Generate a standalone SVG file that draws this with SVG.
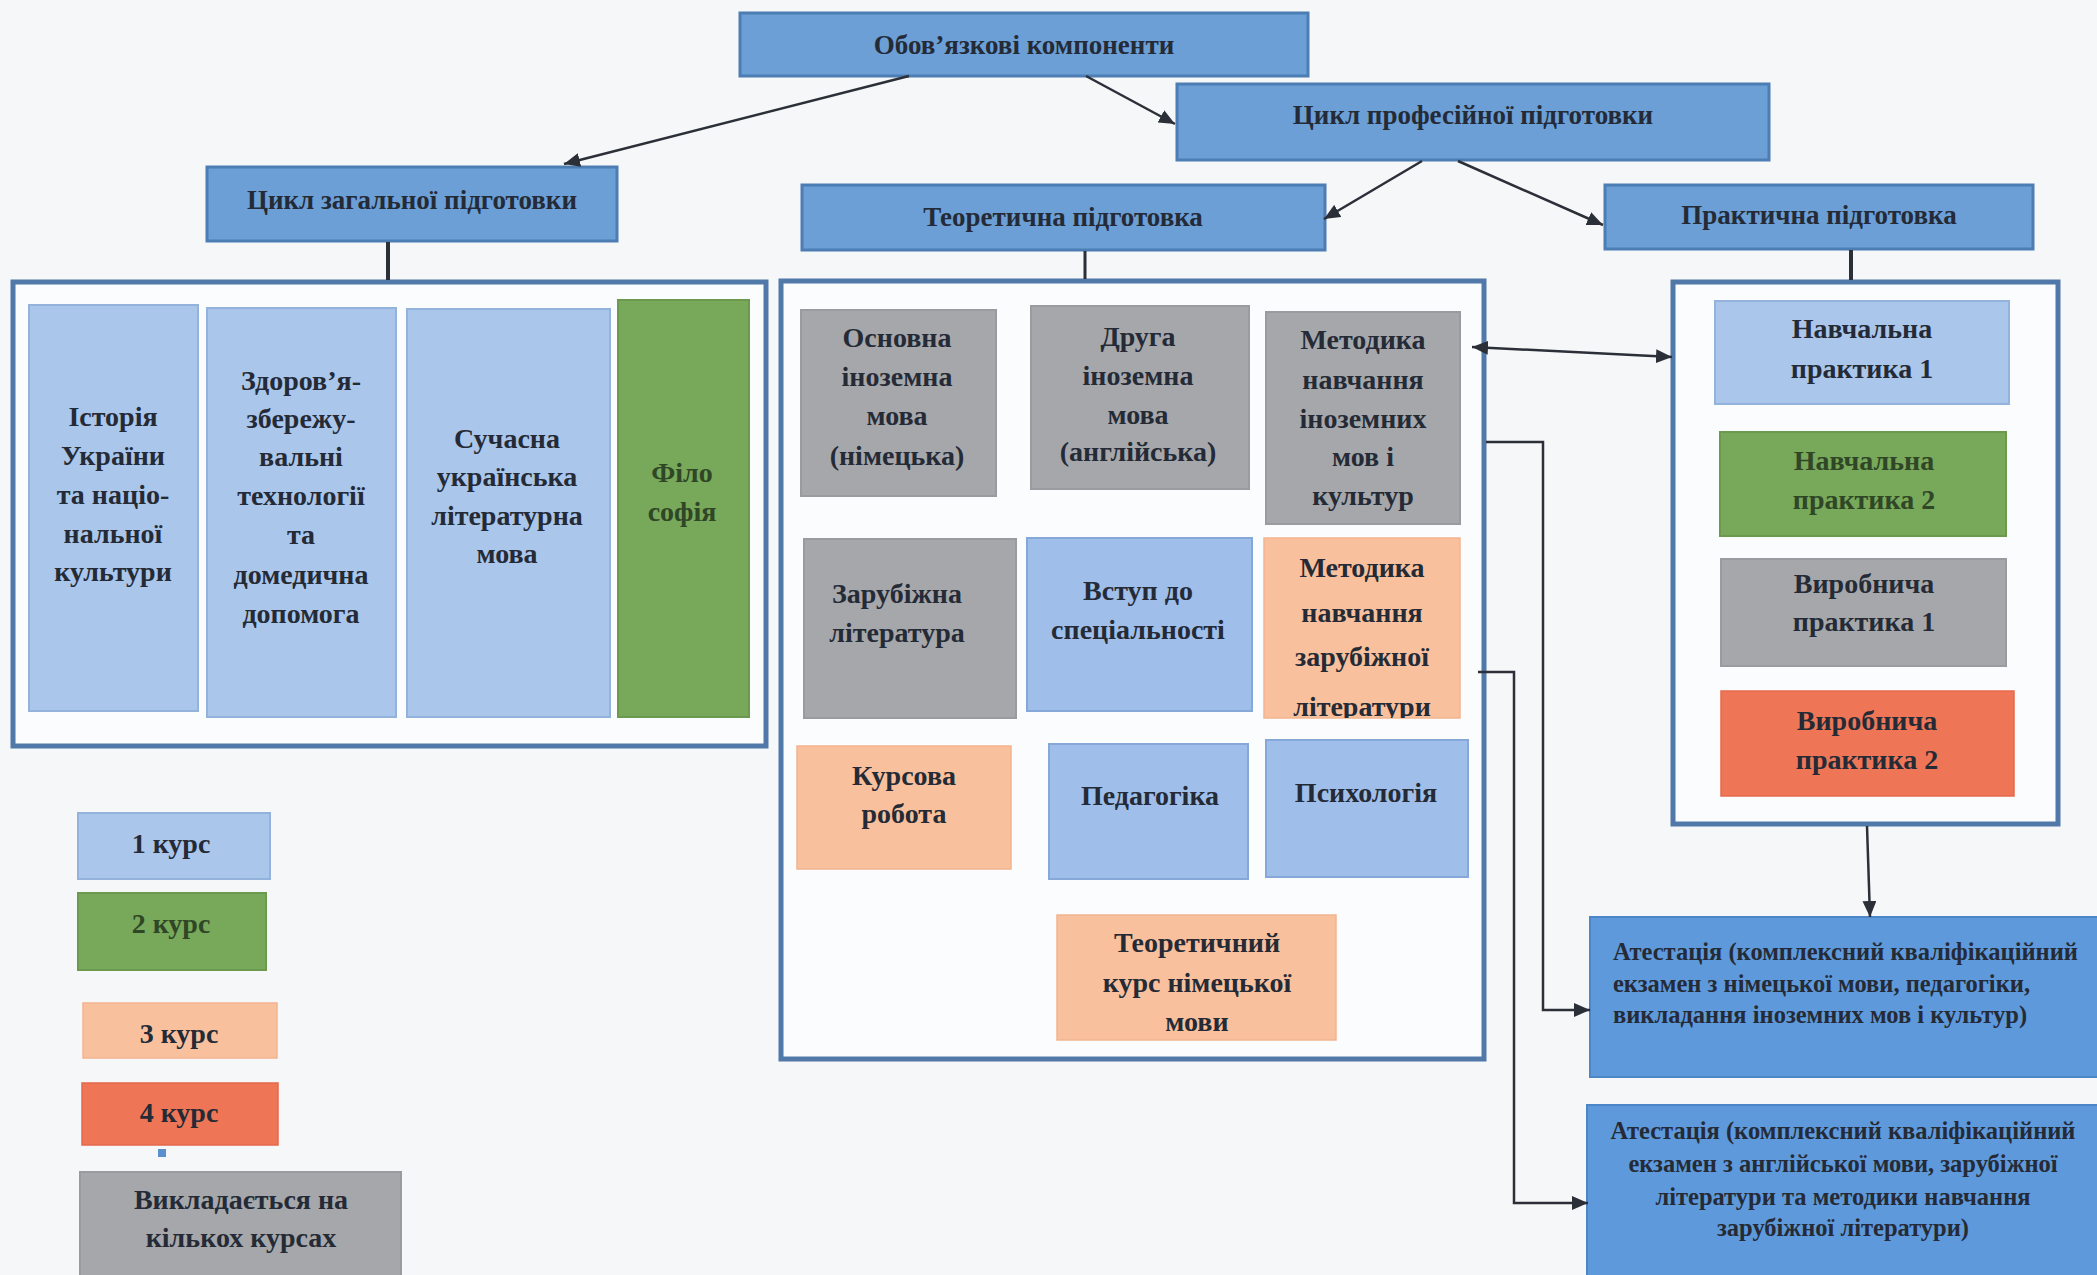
<svg xmlns="http://www.w3.org/2000/svg" width="2097" height="1275" viewBox="0 0 2097 1275">
<style>
.t{font-family:"Liberation Serif","Times New Roman",serif;font-weight:bold;font-size:28px;text-anchor:middle;fill:#252b36}
.h{font-size:27px}
.a{font-size:24.5px}
.hd{fill:#6b9fd6;stroke:#4c7db3;stroke-width:3}
.cont{fill:#fbfcfd;stroke:#5078a8;stroke-width:5}
.lb{fill:#aac6eb;stroke:#93b2dc;stroke-width:2}
.bl{fill:#9fbee9;stroke:#86a8d8;stroke-width:2}
.gr{fill:#a6a7ab;stroke:#9a9ba0;stroke-width:2}
.gn{fill:#78a859;stroke:#6b9a4e;stroke-width:2}
.pc{fill:#f8c09c;stroke:#f2b48e;stroke-width:1.5}
.rd{fill:#ee7657;stroke:#e56a4c;stroke-width:1.5}
.at{fill:#5e99db;stroke:#4d86c6;stroke-width:2}
.gt{fill:#2f4627}
.c{fill:none;stroke:#2b2f38;stroke-width:2.5}
</style>
<defs>
<marker id="ar" markerUnits="userSpaceOnUse" markerWidth="18" markerHeight="14" refX="16" refY="7" orient="auto-start-reverse">
<path d="M0,0 L16,7 L0,14 Z" fill="#2b2f38"/>
</marker>
<clipPath id="clipMZ"><rect x="1264" y="538" width="196" height="180"/></clipPath>
</defs>
<rect x="0" y="0" width="2097" height="1275" fill="#f6f7f9"/>

<g id="obov">
<rect class="hd" x="740" y="13" width="568" height="63"/>
<text class="t h" x="1024" y="54">Обов’язкові компоненти</text>
</g>
<g id="cykl-prof">
<rect class="hd" x="1177" y="84" width="592" height="76"/>
<text class="t h" x="1473" y="124">Цикл професійної підготовки</text>
</g>
<g id="cykl-zag">
<rect class="hd" x="207" y="167" width="410" height="74"/>
<text class="t h" x="412" y="209">Цикл загальної підготовки</text>
</g>
<g id="teor">
<rect class="hd" x="802" y="185" width="523" height="65"/>
<text class="t h" x="1063" y="226">Теоретична підготовка</text>
</g>
<g id="prakt">
<rect class="hd" x="1605" y="185" width="428" height="64"/>
<text class="t h" x="1819" y="224">Практична підготовка</text>
</g>

<g id="cont-zag"><rect class="cont" x="13" y="282" width="753" height="464"/></g>
<g id="istoriya">
<rect class="lb" x="29" y="305" width="169" height="406"/>
<text class="t" x="113"><tspan x="113" y="426">Історія</tspan><tspan x="113" y="465">України</tspan><tspan x="113" y="504">та націо-</tspan><tspan x="113" y="543">нальної</tspan><tspan x="113" y="581">культури</tspan></text>
</g>
<g id="zdorov">
<rect class="lb" x="207" y="308" width="189" height="409"/>
<text class="t" x="301"><tspan x="301" y="390">Здоров’я-</tspan><tspan x="301" y="428">збережу-</tspan><tspan x="301" y="466">вальні</tspan><tspan x="301" y="505">технології</tspan><tspan x="301" y="544">та</tspan><tspan x="301" y="584">домедична</tspan><tspan x="301" y="623">допомога</tspan></text>
</g>
<g id="suchasna">
<rect class="lb" x="407" y="309" width="203" height="408"/>
<text class="t" x="507"><tspan x="507" y="448">Сучасна</tspan><tspan x="507" y="486">українська</tspan><tspan x="507" y="525">літературна</tspan><tspan x="507" y="563">мова</tspan></text>
</g>
<g id="filosofiya">
<rect class="gn" x="618" y="300" width="131" height="417"/>
<text class="t gt" x="682"><tspan x="682" y="482">Філо</tspan><tspan x="682" y="521">софія</tspan></text>
</g>

<g id="cont-teor"><rect class="cont" x="781" y="281" width="703" height="778"/></g>
<g id="osnovna">
<rect class="gr" x="801" y="310" width="195" height="186"/>
<text class="t" x="897"><tspan x="897" y="347">Основна</tspan><tspan x="897" y="386">іноземна</tspan><tspan x="897" y="425">мова</tspan><tspan x="897" y="465">(німецька)</tspan></text>
</g>
<g id="druha">
<rect class="gr" x="1031" y="306" width="218" height="183"/>
<text class="t" x="1138"><tspan x="1138" y="346">Друга</tspan><tspan x="1138" y="385">іноземна</tspan><tspan x="1138" y="424">мова</tspan><tspan x="1138" y="461">(англійська)</tspan></text>
</g>
<g id="metod-inoz">
<rect class="gr" x="1266" y="312" width="194" height="212"/>
<text class="t" x="1363"><tspan x="1363" y="349">Методика</tspan><tspan x="1363" y="389">навчання</tspan><tspan x="1363" y="428">іноземних</tspan><tspan x="1363" y="466">мов і</tspan><tspan x="1363" y="505">культур</tspan></text>
</g>
<g id="zarub">
<rect class="gr" x="804" y="539" width="212" height="179"/>
<text class="t" x="897"><tspan x="897" y="603">Зарубіжна</tspan><tspan x="897" y="642">література</tspan></text>
</g>
<g id="vstup">
<rect class="bl" x="1027" y="538" width="225" height="173"/>
<text class="t" x="1138"><tspan x="1138" y="600">Вступ до</tspan><tspan x="1138" y="639">спеціальності</tspan></text>
</g>
<g id="metod-zarub">
<rect class="pc" x="1264" y="538" width="196" height="180"/>
<text class="t" x="1362" clip-path="url(#clipMZ)"><tspan x="1362" y="577">Методика</tspan><tspan x="1362" y="622">навчання</tspan><tspan x="1362" y="666">зарубіжної</tspan><tspan x="1362" y="716">літератури</tspan></text>
</g>
<g id="kursova">
<rect class="pc" x="797" y="746" width="214" height="123"/>
<text class="t" x="904"><tspan x="904" y="785">Курсова</tspan><tspan x="904" y="823">робота</tspan></text>
</g>
<g id="pedagogika">
<rect class="bl" x="1049" y="744" width="199" height="135"/>
<text class="t" x="1150" y="805">Педагогіка</text>
</g>
<g id="psykholohiya">
<rect class="bl" x="1266" y="740" width="202" height="137"/>
<text class="t" x="1366" y="802">Психологія</text>
</g>
<g id="teor-kurs">
<rect class="pc" x="1057" y="915" width="279" height="125"/>
<text class="t" x="1197"><tspan x="1197" y="952">Теоретичний</tspan><tspan x="1197" y="992">курс німецької</tspan><tspan x="1197" y="1031">мови</tspan></text>
</g>

<g id="cont-prakt"><rect class="cont" x="1673" y="282" width="385" height="542"/></g>
<g id="navch1">
<rect class="lb" x="1715" y="301" width="294" height="103"/>
<text class="t" x="1862"><tspan x="1862" y="338">Навчальна</tspan><tspan x="1862" y="378">практика 1</tspan></text>
</g>
<g id="navch2">
<rect class="gn" x="1720" y="432" width="286" height="104"/>
<text class="t gt" x="1864"><tspan x="1864" y="470">Навчальна</tspan><tspan x="1864" y="509">практика 2</tspan></text>
</g>
<g id="vyrob1">
<rect class="gr" x="1721" y="559" width="285" height="107"/>
<text class="t" x="1864"><tspan x="1864" y="593">Виробнича</tspan><tspan x="1864" y="631">практика 1</tspan></text>
</g>
<g id="vyrob2">
<rect class="rd" x="1721" y="691" width="293" height="105"/>
<text class="t" x="1867"><tspan x="1867" y="730">Виробнича</tspan><tspan x="1867" y="769">практика 2</tspan></text>
</g>

<g id="atest1">
<rect class="at" x="1590" y="917" width="512" height="160"/>
<text class="t a" style="text-anchor:start" x="1613"><tspan x="1613" y="960">Атестація (комплексний кваліфікаційний</tspan><tspan x="1613" y="992">екзамен з німецької мови, педагогіки,</tspan><tspan x="1613" y="1023">викладання іноземних мов і культур)</tspan></text>
</g>
<g id="atest2">
<rect class="at" x="1587" y="1105" width="515" height="175"/>
<text class="t a" x="1843"><tspan x="1843" y="1139">Атестація (комплексний кваліфікаційний</tspan><tspan x="1843" y="1172">екзамен з англійської мови, зарубіжної</tspan><tspan x="1843" y="1205">літератури та методики навчання</tspan><tspan x="1843" y="1236">зарубіжної літератури)</tspan></text>
</g>

<g id="legend-1">
<rect class="lb" x="78" y="813" width="192" height="66"/>
<text class="t" x="171" y="853">1 курс</text>
</g>
<g id="legend-2">
<rect class="gn" x="78" y="893" width="188" height="77"/>
<text class="t gt" x="171" y="933">2 курс</text>
</g>
<g id="legend-3">
<rect class="pc" x="83" y="1003" width="194" height="55"/>
<text class="t" x="179" y="1043">3 курс</text>
</g>
<g id="legend-4">
<rect class="rd" x="82" y="1083" width="196" height="62"/>
<text class="t" x="179" y="1122">4 курс</text>
</g>
<rect x="158" y="1149" width="8" height="8" fill="#5a8fd0"/>
<g id="legend-multi">
<rect class="gr" x="80" y="1172" width="321" height="110"/>
<text class="t" x="241"><tspan x="241" y="1209">Викладається на</tspan><tspan x="241" y="1247">кількох курсах</tspan></text>
</g>

<g id="connectors">
<line class="c" x1="909" y1="76" x2="564" y2="164" marker-end="url(#ar)"/>
<line class="c" x1="1086" y1="76" x2="1175" y2="124" marker-end="url(#ar)"/>
<line class="c" x1="1422" y1="161" x2="1324" y2="219" marker-end="url(#ar)"/>
<line class="c" x1="1458" y1="161" x2="1603" y2="225" marker-end="url(#ar)"/>
<line class="c" x1="388" y1="242" x2="388" y2="280" style="stroke-width:4"/>
<line class="c" x1="1085" y1="251" x2="1085" y2="279" style="stroke-width:3"/>
<line class="c" x1="1851" y1="250" x2="1851" y2="280" style="stroke-width:4"/>
<line class="c" x1="1472" y1="347" x2="1672" y2="357" marker-start="url(#ar)" marker-end="url(#ar)"/>
<line class="c" x1="1867" y1="826" x2="1870" y2="917" marker-end="url(#ar)"/>
<polyline class="c" points="1486,442 1543,442 1543,1010 1590,1010" marker-end="url(#ar)"/>
<polyline class="c" points="1478,672 1514,672 1514,1203 1588,1203" marker-end="url(#ar)"/>
</g>
</svg>
